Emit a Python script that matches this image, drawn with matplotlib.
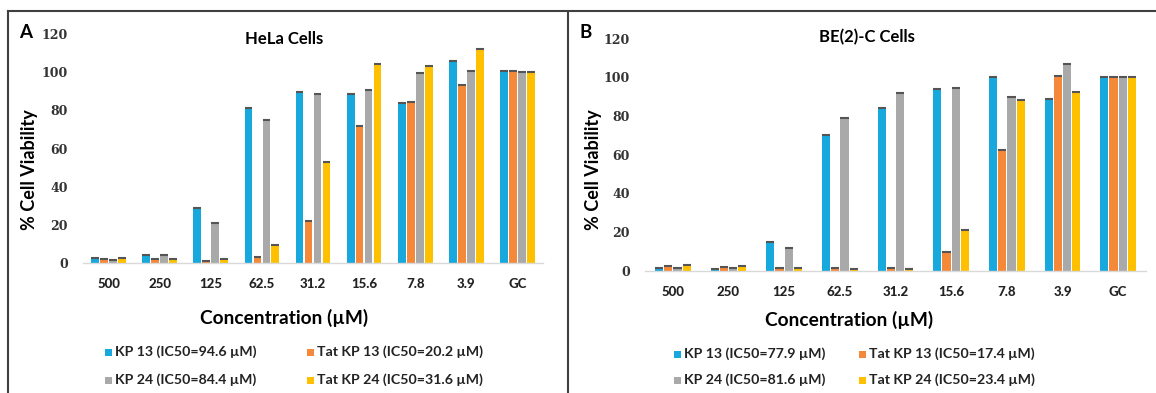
import matplotlib
matplotlib.use("Agg")
import matplotlib.pyplot as plt
from matplotlib.patches import Rectangle
from matplotlib.lines import Line2D
import numpy as np

# ---- data -------------------------------------------------------------
concentrations = ["500", "250", "125", "62.5", "31.2", "15.6", "7.8", "3.9", "GC"]

hela_kp13     = [2.6, 4.2, 28.7, 81.1, 89.7, 88.5, 83.7, 105.8, 100.7]
hela_tat_kp13 = [1.9, 1.9, 1.2, 3.0, 22.2, 71.7, 84.3, 93.2, 100.7]
hela_kp24     = [1.4, 4.2, 21.0, 75.0, 88.5, 90.4, 99.5, 100.7, 100.0]
hela_tat_kp24 = [2.4, 1.9, 1.9, 9.3, 52.8, 104.2, 103.0, 112.2, 100.0]

be2c_kp13     = [1.5, 0.9, 14.7, 70.3, 84.1, 93.8, 100.0, 88.6, 100.0]
be2c_tat_kp13 = [2.6, 2.1, 1.5, 1.5, 1.5, 9.7, 62.6, 100.5, 100.0]
be2c_kp24     = [1.5, 1.5, 11.7, 79.0, 92.0, 94.3, 89.7, 107.0, 100.0]
be2c_tat_kp24 = [3.1, 2.6, 1.5, 0.9, 0.9, 21.0, 88.1, 92.6, 100.0]

hela_legend = ["KP 13 (IC50=94.6 \u00b5M)", "Tat KP 13 (IC50=20.2 \u00b5M)",
               "KP 24 (IC50=84.4 \u00b5M)", "Tat KP 24 (IC50=31.6 \u00b5M)"]
be2c_legend = ["KP 13 (IC50=77.9 \u00b5M)", "Tat KP 13 (IC50=17.4 \u00b5M)",
               "KP 24 (IC50=81.6 \u00b5M)", "Tat KP 24 (IC50=23.4 \u00b5M)"]

colors = ["#17a8de", "#f5893a", "#a9a9a9", "#ffc000"]
cap_color = "#555555"

SANS = "Lato"
SERIF = "DejaVu Serif"

W, H = 1156, 393
fig = plt.figure(figsize=(W / 100, H / 100), dpi=100)


def px(x, y):
    """figure pixel -> figure fraction"""
    return x / W, 1 - y / H


def panel(rect, series, pitch, width, title, title_xy, letter, letter_xy,
          ylabel_x, xlabel_xy, legend_labels, legend_cols, legend_rows):
    ax = fig.add_axes(rect)
    x = np.arange(len(concentrations))
    offsets = (np.arange(4) - 1.5) * pitch
    for vals, off, c in zip(series, offsets, colors):
        ax.bar(x + off, vals, width=width, color=c, linewidth=0, zorder=2)
        ax.hlines(vals, x + off - width / 2, x + off + width / 2,
                  color=cap_color, linewidth=1.5, zorder=3)
    ax.set_xlim(-0.5, len(concentrations) - 0.5)
    ax.set_ylim(0, 120)
    ax.set_yticks(np.arange(0, 121, 20))
    ax.set_yticklabels([str(v) for v in range(0, 121, 20)],
                       fontfamily=SERIF, fontweight="bold", fontsize=9,
                       color="#333333")
    ax.set_xticks(x)
    ax.set_xticklabels(concentrations, fontfamily=SANS, fontweight="black",
                       fontsize=9.5, color="#222222")
    ax.tick_params(axis="x", length=0, pad=11)
    ax.tick_params(axis="y", length=0, pad=11)
    for s in ["top", "right", "left"]:
        ax.spines[s].set_visible(False)
    ax.spines["bottom"].set_color("#d9d9d9")
    ax.spines["bottom"].set_linewidth(1)
    ax.patch.set_alpha(0)

    fig.text(*px(*title_xy), title, ha="center", va="center",
             fontfamily=SANS, fontweight="bold", fontsize=12)
    fig.text(*px(*letter_xy), letter, ha="center", va="center",
             fontfamily=SANS, fontweight="bold", fontsize=13.5)
    fig.text(*px(ylabel_x, 170), "% Cell Viability", ha="center",
             va="center", rotation=90, fontfamily=SANS, fontweight="bold",
             fontsize=13)
    fig.text(*px(*xlabel_xy), "Concentration (\u00b5M)", ha="center",
             va="center", fontfamily=SANS, fontweight="bold", fontsize=13.8)

    order = [(0, 0), (1, 0), (0, 1), (1, 1)]
    for lab, c, (ci, ri) in zip(legend_labels, colors, order):
        mx, my = legend_cols[ci], legend_rows[ri]
        fx, fy = px(mx - 3.5, my + 3.5)
        fig.add_artist(Rectangle((fx, fy), 7 / W, 7 / H, color=c,
                                 transform=fig.transFigure, linewidth=0))
        fig.text(*px(mx + 7, my), lab, ha="left", va="center",
                 fontfamily=SANS, fontweight="bold", fontsize=10.2,
                 color="#222222")
    return ax


# panel A: HeLa
panel([83 / W, 1 - 263 / H, 460 / W, 229 / H],
      [hela_kp13, hela_tat_kp13, hela_kp24, hela_tat_kp24],
      pitch=0.176, width=0.152,
      title="HeLa Cells", title_xy=(284, 39),
      letter="A", letter_xy=(26, 33), ylabel_x=29,
      xlabel_xy=(284, 318), legend_labels=hela_legend,
      legend_cols=(108, 310), legend_rows=(352, 380))

# panel B: BE(2)-C
panel([645 / W, 1 - 270.7 / H, 501 / W, 232.1 / H],
      [be2c_kp13, be2c_tat_kp13, be2c_kp24, be2c_tat_kp24],
      pitch=0.167, width=0.145,
      title="BE(2)-C Cells", title_xy=(867, 37),
      letter="B", letter_xy=(586, 32), ylabel_x=593,
      xlabel_xy=(849, 320), legend_labels=be2c_legend,
      legend_cols=(677, 862), legend_rows=(354, 380))

# panel frames
frame = dict(color="#404040", linewidth=1.5, transform=fig.transFigure)
fig.add_artist(Line2D([8 / W, 1], [1 - 10.5 / H] * 2, **frame))
fig.add_artist(Line2D([8 / W] * 2, [0, 1 - 10.5 / H], **frame))
fig.add_artist(Line2D([567.5 / W] * 2, [0, 1 - 10.5 / H], **frame))

fig.savefig("out.png", dpi=100, facecolor="white")
